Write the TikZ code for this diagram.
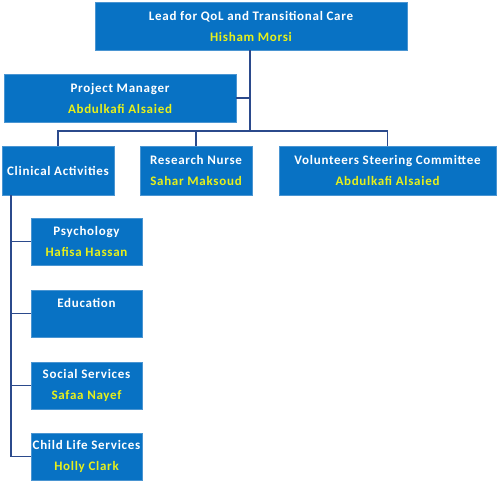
\documentclass[tikz,border=0pt]{standalone}
\usepackage{fontspec}
\setmainfont{Carlito}[LetterSpace=5.5]
\definecolor{boxblue}{HTML}{0872C4}
\definecolor{boxedge}{HTML}{4A95D2}
\definecolor{linenavy}{HTML}{2B4A8C}
\definecolor{nameyel}{HTML}{E8F01A}
\begin{document}
\begin{tikzpicture}[x=1pt,y=-1pt,
  orgbox/.style={rectangle,fill=boxblue,draw=boxedge,line width=0.6pt,text=white,
    align=center,inner sep=0pt,font=\fontsize{13}{21}\selectfont\bfseries},
  conn/.style={draw=linenavy,line width=1.8pt}]
\useasboundingbox (0,0) rectangle (500,481);
\node[orgbox,minimum width=312,minimum height=48] (lead) at (251,26)
  {Lead for QoL and Transitional Care\\{\color{nameyel}Hisham Morsi}};
\node[orgbox,minimum width=232,minimum height=48] (pm) at (120,98)
  {Project Manager\\{\color{nameyel}Abdulkafi Alsaied}};
\node[orgbox,minimum width=112,minimum height=49] (clin) at (58,170.5)
  {Clinical Activities};
\node[orgbox,minimum width=112,minimum height=49] (rn) at (196,170.5)
  {Research Nurse\\{\color{nameyel}Sahar Maksoud}};
\node[orgbox,minimum width=217,minimum height=49] (vol) at (387.5,170.5)
  {Volunteers Steering Committee\\{\color{nameyel}Abdulkafi Alsaied}};
\node[orgbox,minimum width=111,minimum height=47] (psy) at (86.5,241.5)
  {Psychology\\{\color{nameyel}Hafisa Hassan}};
\node[orgbox,minimum width=111,minimum height=47] (edu) at (86.5,313.5)
  {Education\\\mbox{}};
\node[orgbox,minimum width=111,minimum height=47] (soc) at (86.5,385.5)
  {Social Services\\{\color{nameyel}Safaa Nayef}};
\node[orgbox,minimum width=111,minimum height=47] (cls) at (86.5,456.5)
  {Child Life Services\\{\color{nameyel}Holly Clark}};
\coordinate (bar) at (250,131);
\draw[conn] (lead.south -| bar) -- (bar);
\draw[conn] (pm.east) -- (pm.east -| bar);
\draw[conn] (clin.north) |- (bar) -| (vol.north);
\draw[conn] (rn.north) -- (rn.north |- bar);
\coordinate (trunk) at (11,0);
\draw[conn] (clin.south -| trunk) |- (cls.west);
\draw[conn] (psy.west) -- (psy.west -| trunk);
\draw[conn] (edu.west) -- (edu.west -| trunk);
\draw[conn] (soc.west) -- (soc.west -| trunk);
\end{tikzpicture}
\end{document}
